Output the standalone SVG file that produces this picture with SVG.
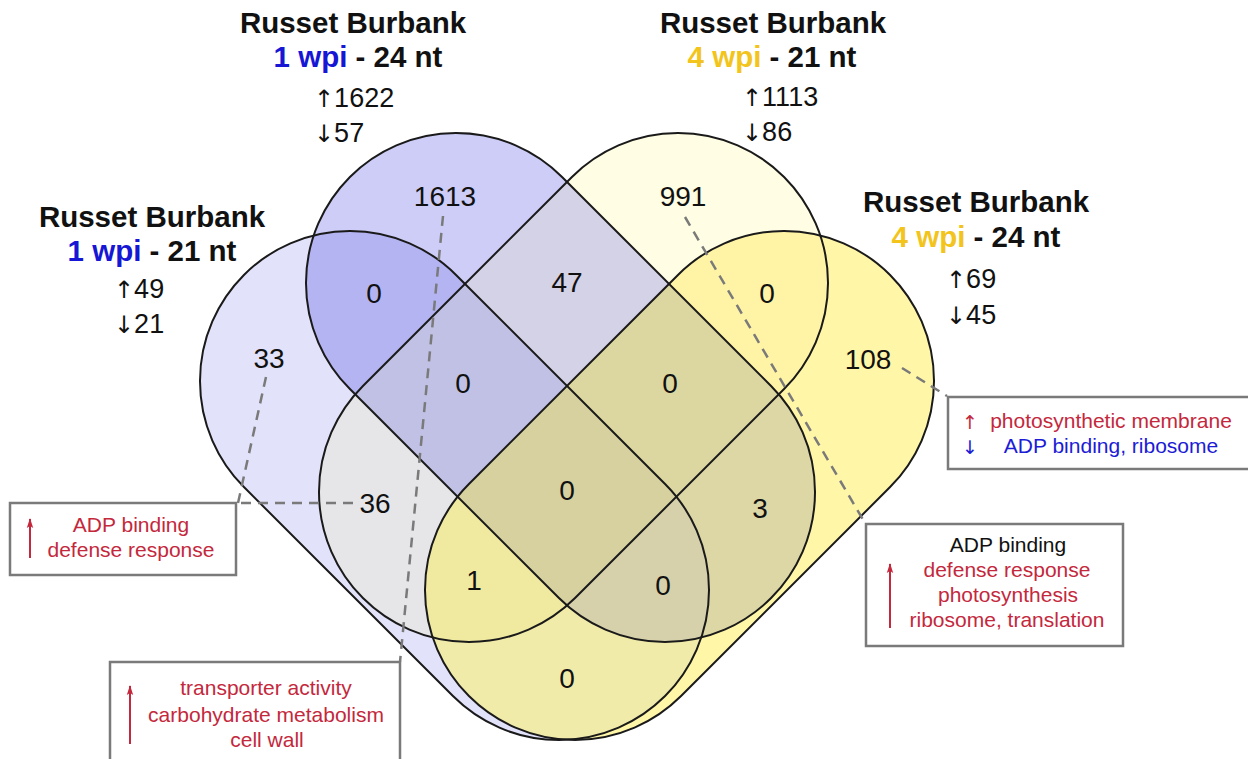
<svg xmlns="http://www.w3.org/2000/svg" xmlns:xlink="http://www.w3.org/1999/xlink" width="1248" height="759" viewBox="0 0 1248 759">
<style>
.ttl{font-family:"Liberation Sans",Arial,Helvetica,sans-serif;font-weight:bold;font-size:29.5px;fill:#111;text-anchor:middle}
.cnt{font-family:"Liberation Sans",Arial,Helvetica,sans-serif;font-size:27px;fill:#111}
.ar{font-family:"DejaVu Sans","Liberation Sans",sans-serif;font-size:24px}
.num{font-family:"Liberation Sans",Arial,Helvetica,sans-serif;font-size:28px;fill:#111;text-anchor:middle}
.go{font-family:"Liberation Sans",Arial,Helvetica,sans-serif;font-size:21px;text-anchor:middle}
.goar{font-family:"DejaVu Sans","Liberation Sans",sans-serif;font-size:19px;text-anchor:middle}
.red{fill:#c4283c}
.blu{fill:#1c1cd6}
.blk{fill:#111}
.wb{fill:#1616d4}
.wy{fill:#f2c41c}
.outline{fill:none;stroke:#1a1a1a;stroke-width:2}
.box{fill:#fff;stroke:#7a7a7a;stroke-width:2.5}
.dash{fill:none;stroke:#7a7a7a;stroke-width:2.5;stroke-dasharray:10 7}
.rarr{stroke:#c4283c;stroke-width:2;marker-end:url(#ahRed)}
.fA{fill:#e2e2fa}.fB{fill:#cdcdf8}.fC{fill:#fffde3}.fD{fill:#fff6a8}
.fAB{fill:#b4b4f2}.fAC{fill:#e6e6e9}.fAD{fill:#f1ebaa}.fBC{fill:#d4d2e6}.fBD{fill:#ddd7a6}.fCD{fill:#fff4a6}
.fABC{fill:#c1c1e6}.fABD{fill:#d6d1ab}.fACD{fill:#f0e9a0}.fBCD{fill:#dcd6a0}.fABCD{fill:#d6d19f}
</style>
<defs>
<rect id="shapeA" x="156.7" y="335.5" width="595.6" height="300" rx="150" ry="150" transform="rotate(45 454.5 485.5)"/>
<rect id="shapeB" x="262.7" y="237.5" width="595.6" height="300" rx="150" ry="150" transform="rotate(45 560.5 387.5)"/>
<rect id="shapeC" x="275.7" y="237.5" width="595.6" height="300" rx="150" ry="150" transform="rotate(-45 573.5 387.5)"/>
<rect id="shapeD" x="381.7" y="335.5" width="595.6" height="300" rx="150" ry="150" transform="rotate(-45 679.5 485.5)"/>
<clipPath id="clipA"><use xlink:href="#shapeA" href="#shapeA"/></clipPath>
<clipPath id="clipB"><use xlink:href="#shapeB" href="#shapeB"/></clipPath>
<clipPath id="clipC"><use xlink:href="#shapeC" href="#shapeC"/></clipPath>
<clipPath id="clipD"><use xlink:href="#shapeD" href="#shapeD"/></clipPath>
<marker id="ahRed" viewBox="0 0 10 8" refX="9" refY="4" markerWidth="10" markerHeight="8" markerUnits="userSpaceOnUse" orient="auto">
<path d="M10 4 L0 0.8 L2 4 L0 7.2 Z" fill="#c4283c"/>
</marker>
</defs>
<rect width="1248" height="759" fill="#fff"/>

<g id="region-fills">
<use href="#shapeA" class="fA"/>
<use href="#shapeB" class="fB"/>
<use href="#shapeC" class="fC"/>
<use href="#shapeD" class="fD"/>
<use href="#shapeA" class="fAB" clip-path="url(#clipB)"/>
<use href="#shapeA" class="fAC" clip-path="url(#clipC)"/>
<use href="#shapeA" class="fAD" clip-path="url(#clipD)"/>
<use href="#shapeB" class="fBC" clip-path="url(#clipC)"/>
<use href="#shapeB" class="fBD" clip-path="url(#clipD)"/>
<use href="#shapeC" class="fCD" clip-path="url(#clipD)"/>
<g clip-path="url(#clipC)"><use href="#shapeA" class="fABC" clip-path="url(#clipB)"/></g>
<g clip-path="url(#clipD)"><use href="#shapeA" class="fABD" clip-path="url(#clipB)"/></g>
<g clip-path="url(#clipD)"><use href="#shapeA" class="fACD" clip-path="url(#clipC)"/></g>
<g clip-path="url(#clipD)"><use href="#shapeB" class="fBCD" clip-path="url(#clipC)"/></g>
<g clip-path="url(#clipD)"><g clip-path="url(#clipC)"><use href="#shapeA" class="fABCD" clip-path="url(#clipB)"/></g></g>
</g>

<g id="set-A-1wpi-21nt">
<use href="#shapeA" class="outline"/>
<text class="ttl" x="152" y="227">Russet Burbank</text>
<text class="ttl" x="152" y="261"><tspan class="wb">1 wpi</tspan> - 21 nt</text>
<text class="cnt" x="114" y="298"><tspan class="ar">↑</tspan>49</text>
<text class="cnt" x="114" y="333"><tspan class="ar">↓</tspan>21</text>
</g>
<g id="set-B-1wpi-24nt">
<use href="#shapeB" class="outline"/>
<text class="ttl" x="353" y="33">Russet Burbank</text>
<text class="ttl" x="358" y="67"><tspan class="wb">1 wpi</tspan> - 24 nt</text>
<text class="cnt" x="314" y="107"><tspan class="ar">↑</tspan>1622</text>
<text class="cnt" x="314" y="142"><tspan class="ar">↓</tspan>57</text>
</g>
<g id="set-C-4wpi-21nt">
<use href="#shapeC" class="outline"/>
<text class="ttl" x="773" y="33">Russet Burbank</text>
<text class="ttl" x="772" y="67"><tspan class="wy">4 wpi</tspan> - 21 nt</text>
<text class="cnt" x="742" y="106"><tspan class="ar">↑</tspan>1113</text>
<text class="cnt" x="742" y="141"><tspan class="ar">↓</tspan>86</text>
</g>
<g id="set-D-4wpi-24nt">
<use href="#shapeD" class="outline"/>
<text class="ttl" x="976" y="212">Russet Burbank</text>
<text class="ttl" x="976" y="247"><tspan class="wy">4 wpi</tspan> - 24 nt</text>
<text class="cnt" x="946" y="288"><tspan class="ar">↑</tspan>69</text>
<text class="cnt" x="946" y="324"><tspan class="ar">↓</tspan>45</text>
</g>

<g id="region-counts">
<text class="num" x="269" y="368">33</text>
<text class="num" x="445" y="206">1613</text>
<text class="num" x="683" y="206">991</text>
<text class="num" x="868" y="369">108</text>
<text class="num" x="374" y="303">0</text>
<text class="num" x="567" y="292">47</text>
<text class="num" x="767" y="303">0</text>
<text class="num" x="463" y="393">0</text>
<text class="num" x="670" y="393">0</text>
<text class="num" x="567" y="500">0</text>
<text class="num" x="375" y="513">36</text>
<text class="num" x="760" y="518">3</text>
<text class="num" x="474" y="590">1</text>
<text class="num" x="663" y="595">0</text>
<text class="num" x="567" y="688">0</text>
</g>

<g id="connectors">
<path class="dash" d="M266 377 L238 503"/>
<path class="dash" d="M353 503 L238 503"/>
<path class="dash" d="M443 216 L400 662"/>
<path class="dash" d="M685 217 L865 523"/>
<path class="dash" d="M902 368 L947 396"/>
</g>

<g id="box-36">
<rect class="box" x="10" y="503" width="226" height="72"/>
<line class="rarr" x1="30" y1="558" x2="30" y2="519"/>
<text class="go red" x="131" y="532">ADP binding</text>
<text class="go red" x="131" y="557">defense response</text>
</g>
<g id="box-1613">
<rect class="box" x="110" y="662" width="290" height="110"/>
<line class="rarr" x1="130" y1="744" x2="130" y2="686"/>
<text class="go red" x="266" y="695">transporter activity</text>
<text class="go red" x="266" y="722">carbohydrate metabolism</text>
<text class="go red" x="267" y="747">cell wall</text>
</g>
<g id="box-108">
<rect class="box" x="948" y="397" width="310" height="72"/>
<text class="goar red" x="970" y="429">↑</text>
<text class="goar blu" x="970" y="454">↓</text>
<text class="go red" x="1111" y="428">photosynthetic membrane</text>
<text class="go blu" x="1111" y="453">ADP binding, ribosome</text>
</g>
<g id="box-991">
<rect class="box" x="866" y="524" width="257" height="122"/>
<line class="rarr" x1="890" y1="628" x2="890" y2="564"/>
<text class="go blk" x="1008" y="552">ADP binding</text>
<text class="go red" x="1007" y="577">defense response</text>
<text class="go red" x="1008" y="602">photosynthesis</text>
<text class="go red" x="1007" y="627">ribosome, translation</text>
</g>
</svg>
